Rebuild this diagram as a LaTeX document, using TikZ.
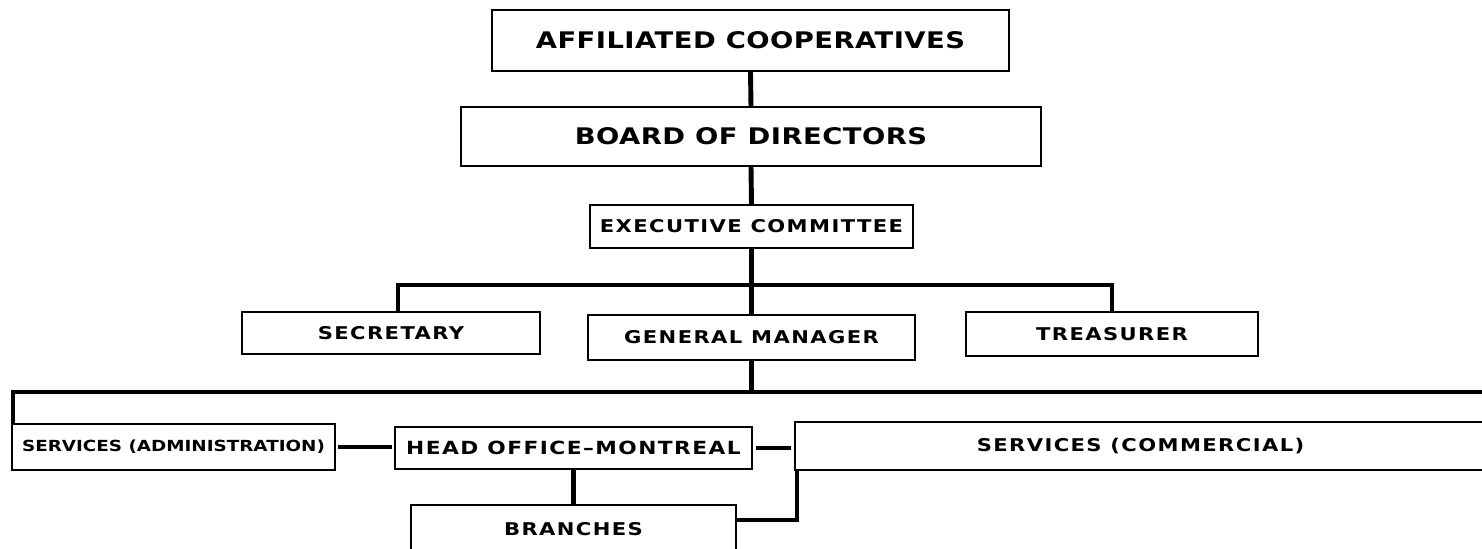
\documentclass[tikz,border=0pt]{standalone}
\usepackage{fontspec}
\newfontfamily\lettering{DejaVu Sans}[FakeStretch=1.2,Ligatures=TeX]
\usetikzlibrary{backgrounds}
\pgfdeclarelayer{edgelayer}
\pgfdeclarelayer{nodelayer}
\pgfsetlayers{edgelayer,nodelayer,main}
\tikzset{font=\lettering\bfseries}
\tikzstyle{none}=[inner sep=0pt]
\tikzstyle{box}=[rectangle,draw,line width=0.6pt,inner sep=0pt,fill=white]
\tikzstyle{big}=[font=\lettering\bfseries\addfontfeature{LetterSpace=2}\fontsize{13}{15}\selectfont]
\tikzstyle{mid}=[font=\lettering\bfseries\addfontfeature{LetterSpace=8}\fontsize{10.3}{12}\selectfont]
\tikzstyle{small}=[font=\lettering\bfseries\addfontfeature{LetterSpace=8}\fontsize{10}{12}\selectfont]
\tikzstyle{tiny}=[font=\lettering\bfseries\fontsize{8.7}{10}\selectfont]
\tikzstyle{link}=[line width=2.8pt]

\begin{document}
\begin{tikzpicture}
	\useasboundingbox (0, 0) rectangle (29.64, 10.96);
	\begin{pgfonlayer}{nodelayer}
		\node [style=box, style=big, minimum width=10.34cm, minimum height=1.22cm] (0) at (15.01, 10.15) {AFFILIATED COOPERATIVES};
		\node [style=box, style=big, minimum width=11.6cm, minimum height=1.18cm] (1) at (15.02, 8.23) {BOARD OF DIRECTORS};
		\node [style=box, style=small, minimum width=6.46cm, minimum height=0.86cm] (2) at (15.03, 6.43) {EXECUTIVE COMMITTEE};
		\node [style=box, style=small, minimum width=5.96cm, minimum height=0.84cm] (3) at (7.82, 4.30) {SECRETARY};
		\node [style=box, style=small, minimum width=6.54cm, minimum height=0.9cm] (4) at (15.03, 4.21) {GENERAL MANAGER};
		\node [style=box, style=small, minimum width=5.84cm, minimum height=0.88cm] (5) at (22.24, 4.28) {TREASURER};
		\node [style=box, style=tiny, minimum width=6.46cm, minimum height=0.92cm] (6) at (3.47, 2.02) {SERVICES (ADMINISTRATION)};
		\node [style=box, style=mid, minimum width=7.14cm, minimum height=0.84cm] (7) at (11.47, 2.0) {HEAD OFFICE–MONTREAL};
		\node [style=box, style=small, minimum width=13.82cm, minimum height=0.96cm] (8) at (22.81, 2.04) {SERVICES (COMMERCIAL)};
		\node [style=box, style=small, minimum width=6.5cm, minimum height=0.96cm] (9) at (11.47, 0.38) {BRANCHES};
		\coordinate (10) at (7.96, 5.26);
		\coordinate (11) at (22.24, 5.26);
		\coordinate (12) at (0.26, 3.12);
		\coordinate (13) at (29.9, 3.12);
		\coordinate (14) at (15.94, 0.56);
	\end{pgfonlayer}
	\begin{pgfonlayer}{edgelayer}
		\draw [style=link] (0.south) to (1.north);
		\draw [style=link] (1.south) to (2.north);
		\draw [style=link] (2.south) to (4.north);
		\draw [style=link] (3.north -| 10) to (10) to (11) to (5.north);
		\draw [style=link] (4.south) to (4.south |- 12);
		\draw [style=link] (6.north -| 12) to (12) to (13);
		\draw [style=link, shorten <=1.5pt, shorten >=1.5pt] (6.east) to (6.east -| 7.west);
		\draw [style=link, shorten <=2pt, shorten >=2pt] (7.east) to (7.east -| 8.west);
		\draw [style=link] (7.south) to (9.north);
		\draw [style=link] (9.east |- 14) to (14) to (8.south -| 14);
	\end{pgfonlayer}
\end{tikzpicture}
\end{document}
